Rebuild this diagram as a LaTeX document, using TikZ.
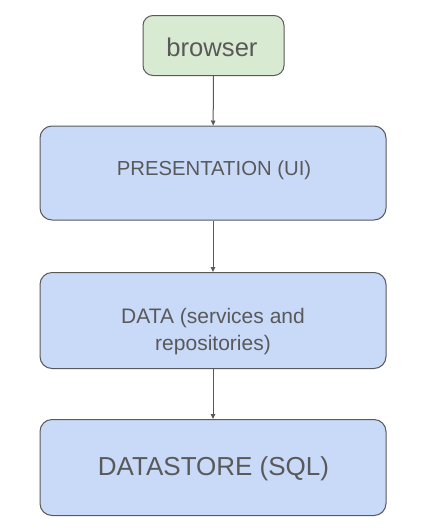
\documentclass[tikz,border=0pt]{standalone}
\usepackage{fontspec}
\setmainfont{Liberation Sans}
\usetikzlibrary{arrows.meta}
\definecolor{boxgreen}{HTML}{D9EAD3}
\definecolor{boxblue}{HTML}{C9DAF8}
\definecolor{linegrey}{HTML}{595959}
\begin{document}
\begin{tikzpicture}[x=1pt,y=1pt,
  layer/.style={draw=linegrey, line width=1pt, fill=boxblue, rounded corners=12pt,
    minimum width=346pt, minimum height=96pt, inner sep=0pt},
  topbox/.style={draw=linegrey, line width=1pt, fill=boxgreen, rounded corners=10pt,
    minimum width=141pt, minimum height=60pt, inner sep=0pt},
  lbl/.style={text=linegrey, inner sep=0pt, anchor=base, align=center},
  conn/.style={draw=linegrey, line width=1pt, -{Triangle[length=5pt,width=4.5pt]}}]
\useasboundingbox (0,0) rectangle (431,-531);
\node[topbox] (browser) at (213.5,-45.5) {};
\node[layer, minimum height=94pt] (pres) at (213,-173) {};
\node[layer] (data) at (213,-320.5) {};
\node[layer] (store) at (213,-467.5) {};
\node[lbl, font=\fontsize{25.6}{30}\selectfont] (browsertxt) at (212,-56.7) {browser};
\node[lbl, font=\fontsize{20.3}{24}\selectfont] (prestxt) at (214,-175) {PRESENTATION (UI)};
\node[lbl, font=\fontsize{21}{26.7}\selectfont] (datatxt) at (213,-350) {DATA (services and\\repositories)};
\node[lbl, font=\fontsize{26}{30}\selectfont] (storetxt) at (213.5,-475) {DATASTORE (SQL)};
\draw[conn] (browser) -- (pres);
\draw[conn] (pres) -- (data);
\draw[conn] (data) -- (store);
\end{tikzpicture}
\end{document}
